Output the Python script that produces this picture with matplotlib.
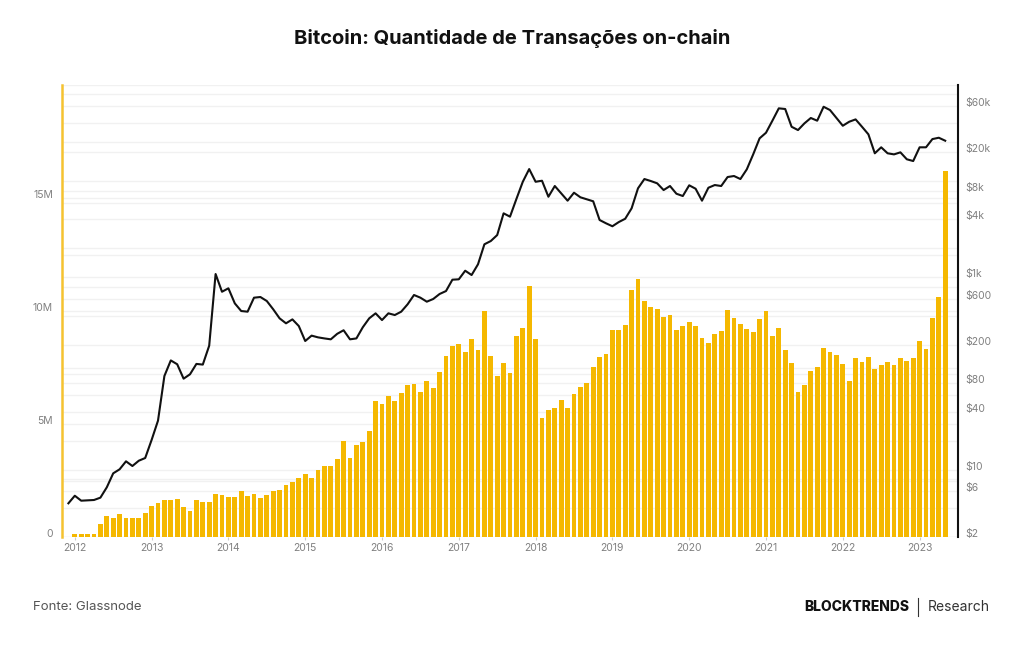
import numpy as np
import matplotlib.pyplot as plt
from matplotlib.lines import Line2D
from matplotlib.transforms import blended_transform_factory


plt.rcParams['font.family'] = ['Inter', 'DejaVu Sans']

years = ['2012', '2013', '2014', '2015', '2016', '2017',
         '2018', '2019', '2020', '2021', '2022', '2023']

# monthly on-chain transactions (millions), jan/2012 .. may/2023
tx_2012 = [0.12, 0.15, 0.15, 0.15, 0.57, 0.93, 0.83, 1.03, 0.86, 0.86, 0.86, 1.06]
tx_2013 = [1.36, 1.52, 1.64, 1.64, 1.67, 1.31, 1.15, 1.64, 1.53, 1.56, 1.89, 1.86]
tx_2014 = [1.75, 1.78, 2.04, 1.81, 1.92, 1.74, 1.86, 2.04, 2.08, 2.31, 2.42, 2.63]
tx_2015 = [2.80, 2.60, 2.98, 3.13, 3.13, 3.44, 4.23, 3.48, 4.06, 4.19, 4.69, 6.00]
tx_2016 = [5.87, 6.25, 6.02, 6.36, 6.71, 6.78, 6.43, 6.90, 6.58, 7.30, 8.00, 8.45]
tx_2017 = [8.54, 8.19, 8.77, 8.27, 9.99, 8.00, 7.12, 7.68, 7.26, 8.89, 9.23, 11.11]
tx_2018 = [8.77, 5.27, 5.62, 5.69, 6.05, 5.69, 6.33, 6.65, 6.80, 7.51, 7.96, 8.10]
tx_2019 = [9.15, 9.17, 9.38, 10.92, 11.42, 10.43, 10.19, 10.09, 9.72, 9.81, 9.17, 9.35]
tx_2020 = [9.53, 9.35, 8.82, 8.60, 9.00, 9.10, 10.06, 9.70, 9.42, 9.20, 9.06, 9.63]
tx_2021 = [10.00, 8.89, 9.23, 8.29, 7.71, 6.43, 6.73, 7.35, 7.54, 8.36, 8.20, 8.04]
tx_2022 = [7.64, 6.90, 7.91, 7.75, 7.96, 7.43, 7.60, 7.74, 7.60, 7.91, 7.79, 7.91]
tx_2023 = [8.67, 8.32, 9.70, 10.62, 16.21]

# monthly BTC price (USD), dec/2011 .. may/2023
price_2011 = [4.48]
price_2012 = [5.37, 4.77, 4.81, 4.85, 5.13, 6.57, 9.18, 10.11, 12.24, 10.94, 12.42, 13.25]
price_2013 = [20.4, 32.4, 94.4, 137, 125, 88.5, 98.3, 126, 124, 195, 1084, 709]
price_2014 = [770, 537, 447, 440, 615, 625, 568, 466, 375, 333, 366, 312]
price_2015 = [218, 248, 238, 232, 227, 259, 282, 227, 232, 303, 375, 423]
price_2016 = [360, 423, 406, 440, 525, 656, 615, 559, 596, 672, 721, 946]
price_2017 = [955, 1173, 1058, 1368, 2208, 2388, 2755, 4634, 4276, 6531, 9866, 13370]
price_2018 = [9866, 10110, 6890, 8910, 7480, 6270, 7590, 6800, 6480, 6180, 3950, 3650]
price_2019 = [3400, 3760, 4070, 5220, 8430, 10530, 10040, 9500, 8090, 8910, 7410, 7010]
price_2020 = [9060, 8350, 6270, 8550, 9120, 8910, 11050, 11320, 10530, 13280, 19020, 27900]
price_2021 = [31900, 42550, 57200, 56300, 36800, 34000, 39900, 45400, 42550, 59400, 54900, 45400]
price_2022 = [37700, 41500, 43900, 36800, 30700, 19500, 22500, 19500, 19000, 19950, 16900, 16200]
price_2023 = [22500, 22500, 27400, 28300, 26350]

price_ticks = [2, 6, 10, 40, 80, 200, 600, 1000, 4000, 8000, 20000, 60000]
price_labels = ['$2', '$6', '$10', '$40', '$80', '$200', '$600',
                '$1k', '$4k', '$8k', '$20k', '$60k']
price_grid = [2, 4, 6, 8, 10, 20, 40, 60, 80, 100, 200, 400, 600, 800,
              1000, 2000, 4000, 6000, 8000, 10000, 20000, 40000, 60000,
              80000, 100000]


def visualize_data():
    transactions = np.array(tx_2012 + tx_2013 + tx_2014 + tx_2015 + tx_2016 + tx_2017
                            + tx_2018 + tx_2019 + tx_2020 + tx_2021 + tx_2022 + tx_2023) * 1e6
    btc_price = np.array(price_2011 + price_2012 + price_2013 + price_2014 + price_2015
                         + price_2016 + price_2017 + price_2018 + price_2019 + price_2020
                         + price_2021 + price_2022 + price_2023)

    months = np.arange(len(transactions))
    price_months = np.arange(-1, len(btc_price) - 1)

    fig = plt.figure(figsize=(10.24, 6.45), dpi=100)
    ax = fig.add_axes([62 / 1024, 108 / 645, 896 / 1024, 452 / 645])
    ax2 = ax.twinx()

    # bars - transactions
    ax.bar(months, transactions, width=0.72, color='#f5b800', zorder=2)
    ax.set_xlim(-2, 138)
    ax.set_ylim(0, 20e6)
    ax.set_yticks([0, 5e6, 10e6, 15e6])
    ax.set_yticklabels(['0', '5M', '10M', '15M'])
    ax.set_yticks(np.arange(2.5e6, 20e6, 5e6), minor=True)
    ax.set_xticks(np.arange(len(years)) * 12)
    ax.set_xticklabels(years)
    ax.set_axisbelow(True)
    ax.grid(axis='y', which='both', color='#f1f1f1', linewidth=1, zorder=0)

    # line - price (log)
    ax2.plot(price_months, btc_price, color='#111111', linewidth=1.5, zorder=3)
    ax2.set_yscale('log')
    ax2.set_ylim(2, 1e5)
    ax2.set_yticks(price_ticks)
    ax2.set_yticklabels(price_labels)
    ax2.yaxis.set_minor_locator(plt.NullLocator())

    # price grid drawn on the bar axes so it stays behind the bars
    trans = blended_transform_factory(ax.transAxes, ax2.transData)
    for v in price_grid:
        ax.plot([0, 1], [v, v], transform=trans, color='#f1f1f1',
                linewidth=1, zorder=0.5)

    for a in (ax, ax2):
        a.spines['top'].set_visible(False)
        a.spines['bottom'].set_visible(False)
    ax.spines['right'].set_visible(False)
    ax2.spines['left'].set_visible(False)
    ax.spines['left'].set_color('#f5c230')
    ax.spines['left'].set_linewidth(1.8)
    ax2.spines['right'].set_color('#111111')
    ax2.spines['right'].set_linewidth(1.5)

    ax.tick_params(axis='y', which='both', length=0, labelsize=7.5,
                   labelcolor='#808080', pad=6.5)
    ax2.tick_params(axis='y', which='both', length=0, labelsize=7.5,
                    labelcolor='#808080', pad=5.5)
    ax.tick_params(axis='x', length=2.5, color='#cccccc', labelsize=7.5,
                   labelcolor='#808080', pad=2)
    for lab in ax.get_yticklabels() + ax2.get_yticklabels():
        lab.set_va('baseline')

    fig.text(0.5, 1 - 38 / 645, 'Bitcoin: Quantidade de Transações on-chain',
             ha='center', va='center', fontsize=14.5, fontweight='bold', color='#111111')

    fig.text(33 / 1024, 1 - 607 / 645, 'Fonte: Glassnode', ha='left', va='center',
             fontsize=9.5, color='#555555')
    fig.text(909 / 1024, 1 - 607 / 645, 'BLOCKTRENDS', ha='right', va='center',
             fontsize=10, fontweight='heavy', color='#111111')
    fig.add_artist(Line2D([918 / 1024, 918 / 1024], [1 - 598 / 645, 1 - 616 / 645],
                          color='#333333', linewidth=0.8))
    fig.text(928 / 1024, 1 - 607 / 645, 'Research', ha='left', va='center',
             fontsize=10, color='#333333')

    fig.savefig('out.png', dpi=100, facecolor='white')


if __name__ == '__main__':
    visualize_data()
